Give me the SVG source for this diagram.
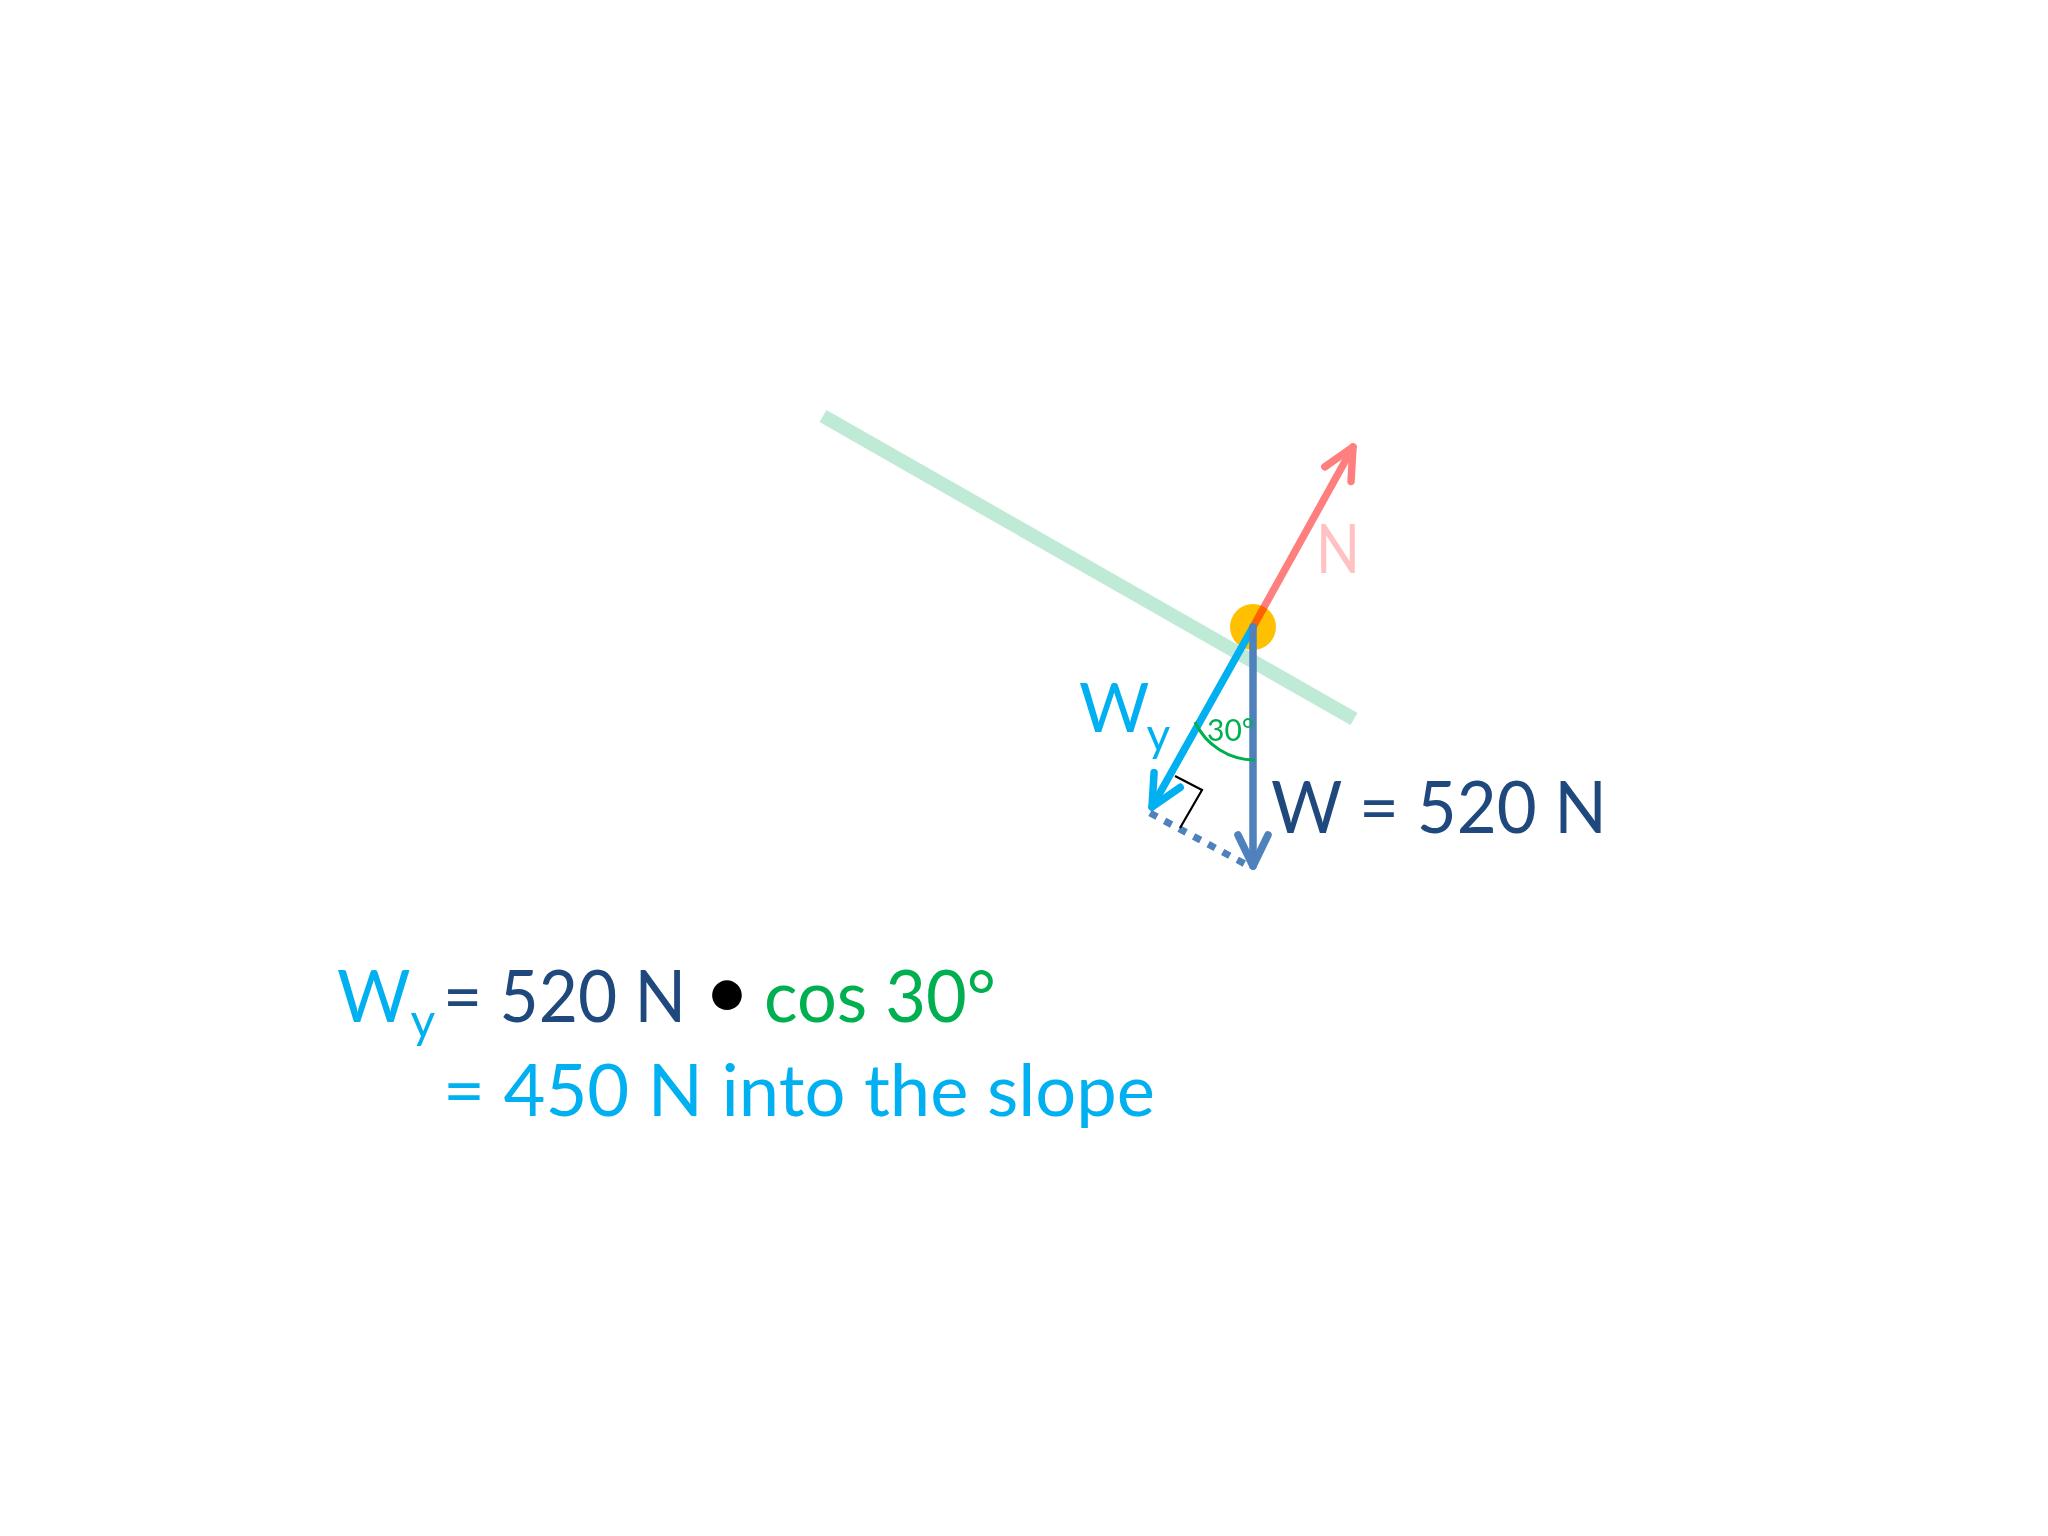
<svg xmlns="http://www.w3.org/2000/svg" width="2048" height="1536" viewBox="0 0 2048 1536">
  <style>
    text { font-family: Lato, "Open Sans", "Liberation Sans", sans-serif; }
    .big { font-size: 71px; }
    .ltblue { fill: #00B0F0; }
    .dkblue { fill: #1F497D; }
    .green { fill: #00B050; }
    .shaft { fill: none; stroke-width: 7.5; stroke-linecap: round; }
  </style>
  <defs>
    <marker id="headN" markerUnits="userSpaceOnUse" viewBox="-45 -25 55 50" markerWidth="55" markerHeight="50" refX="0" refY="0" orient="auto" overflow="visible">
      <path d="M-31,-15 L0,0 L-31,15" fill="none" stroke="#FF7F7F" stroke-width="7.5" stroke-linecap="round" stroke-linejoin="round"/>
    </marker>
    <marker id="headWy" markerUnits="userSpaceOnUse" viewBox="-45 -25 55 50" markerWidth="55" markerHeight="50" refX="0" refY="0" orient="auto" overflow="visible">
      <path d="M-31,-15 L0,0 L-31,15" fill="none" stroke="#00B0F0" stroke-width="7.5" stroke-linecap="round" stroke-linejoin="round"/>
    </marker>
    <marker id="headW" markerUnits="userSpaceOnUse" viewBox="-45 -25 55 50" markerWidth="55" markerHeight="50" refX="0" refY="0" orient="auto" overflow="visible">
      <path d="M-31,-15 L0,0 L-31,15" fill="none" stroke="#4F81BD" stroke-width="7.5" stroke-linecap="round" stroke-linejoin="round"/>
    </marker>
  </defs>
  <rect width="2048" height="1536" fill="#FFFFFF"/>

  <g id="slope">
    <line x1="823" y1="416" x2="1354" y2="719" stroke="#BFEAD6" stroke-width="14"/>
  </g>
  <g id="body">
    <circle cx="1253" cy="627" r="23" fill="#FFC000"/>
  </g>

  <g id="connectors">
    <line id="arrowN" class="shaft" x1="1253" y1="627" x2="1353" y2="447" stroke="#FF7F7F" marker-end="url(#headN)" style="mix-blend-mode:multiply"/>
    <line id="arrowWy" class="shaft" x1="1253" y1="627" x2="1152" y2="807" stroke="#00B0F0" marker-end="url(#headWy)"/>
    <line id="arrowW" class="shaft" x1="1253" y1="627" x2="1253" y2="866" stroke="#4F81BD" marker-end="url(#headW)"/>
    <line id="dotted" x1="1150" y1="813" x2="1247" y2="865" stroke="#4F81BD" stroke-width="7" stroke-dasharray="8 8.5"/>
    <path id="rightAngle" d="M1175,776 L1202,790 L1180,828" fill="none" stroke="#000000" stroke-width="2.2"/>
    <path id="angleArc" d="M1195,722 A66,66 0 0,0 1255,760" fill="none" stroke="#00B050" stroke-width="3"/>
  </g>

  <g id="labels">
    <text x="1316" y="573" font-size="67" fill="#FFC1C1" textLength="44" lengthAdjust="spacingAndGlyphs">N</text>
    <text x="1079" y="732" font-size="68" class="ltblue">W<tspan dx="-3" dy="19" font-size="46">y</tspan></text>
    <text x="1207" y="741" font-size="30" class="green">30°</text>
    <text x="1271" y="833" class="big dkblue" textLength="336" lengthAdjust="spacingAndGlyphs">W = 520 N</text>
  </g>

  <g id="equation">
    <text x="337" y="1022" class="big ltblue">W<tspan dx="0" dy="16" font-size="48">y</tspan></text>
    <text x="443" y="1022" class="big dkblue" textLength="243" lengthAdjust="spacingAndGlyphs">= 520 N</text>
    <text x="727" y="1019" font-size="80" text-anchor="middle" fill="#000000">•</text>
    <text x="764" y="1022" class="big green" textLength="232" lengthAdjust="spacingAndGlyphs">cos 30°</text>
    <text x="443" y="1116" class="big ltblue" textLength="712" lengthAdjust="spacingAndGlyphs">= 450 N into the slope</text>
  </g>
</svg>
